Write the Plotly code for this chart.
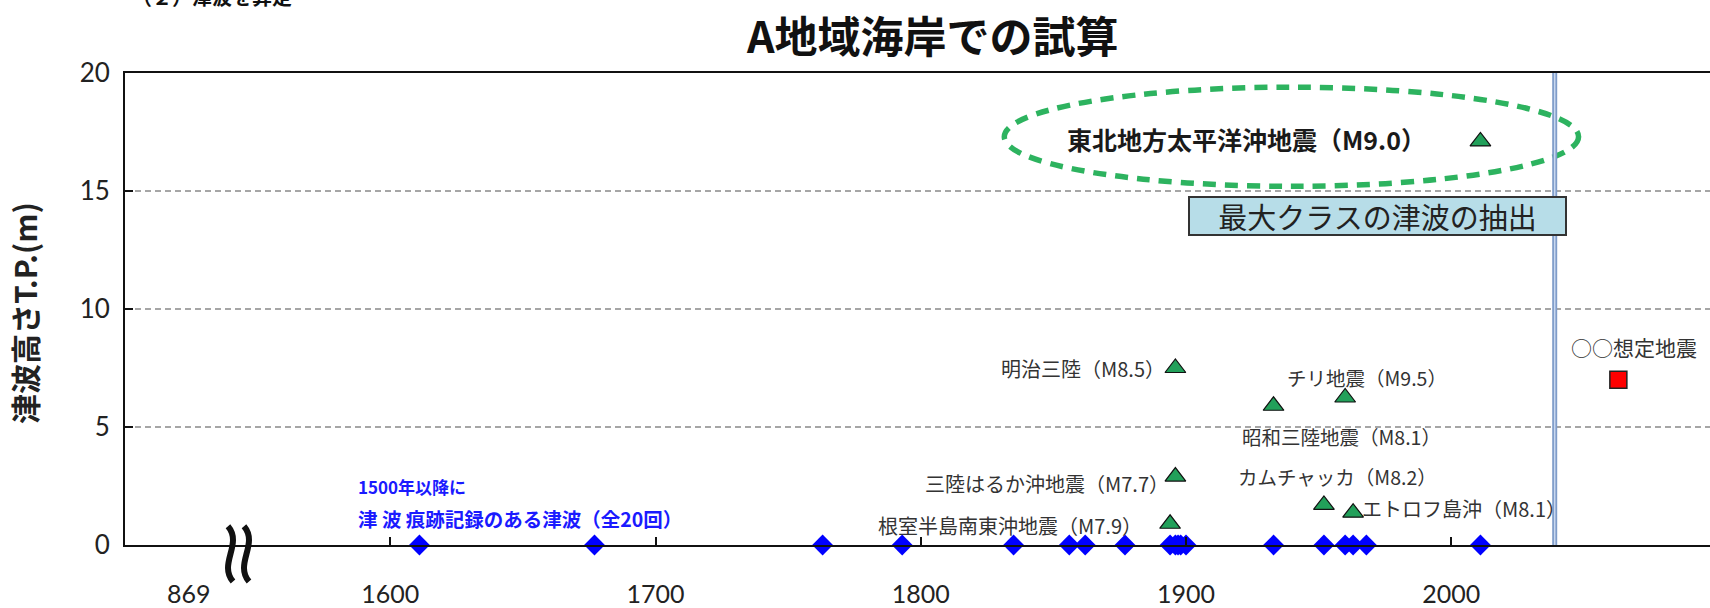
import plotly.graph_objects as go

# ---------------- data ----------------
record_years = [1611, 1677, 1763, 1793, 1835, 1856, 1862, 1877, 1894, 1896,
                1897, 1898, 1900, 1933, 1952, 1960, 1963, 1968, 2011]
record_heights = [0, 0, 0, 0, 0, 0, 0, 0, 0, 0,
                  0, 0, 0, 0, 0, 0, 0, 0, 0]

event_names = ["明治三陸（M8.5）", "三陸はるか沖地震（M7.7）", "根室半島南東沖地震（M7.9）",
               "昭和三陸地震（M8.1）", "チリ地震（M9.5）", "カムチャッカ（M8.2）",
               "エトロフ島沖（M8.1）", "東北地方太平洋沖地震（M9.0）"]
event_years = [1896, 1896, 1894, 1933, 1960, 1952, 1963, 2011]
event_heights = [7.5, 2.9, 0.9, 5.9, 6.25, 1.7, 1.37, 17.1]

scenario_names = ["○○想定地震"]
scenario_years = [2063]
scenario_heights = [7.0]

x_tick_vals = [1524, 1600, 1700, 1800, 1900, 2000]
x_tick_text = ["869", "1600", "1700", "1800", "1900", "2000"]
y_tick_vals = [0, 5, 10, 15, 20]

# ---------------- layout geometry (pixels) ----------------
W, H = 1710, 608
L, T, B = 125, 73, 551
PW, PH = W - L, B - T
X0 = 1500
XPX = 2.6525  # px per year
X1 = X0 + PW / XPX


def pxx(px):
    return (px - L) / PW


def pxy(py):
    return (B - py) / PH


# label placement: (xanchor, xshift, yshift, size, bold)
event_label_style = [
    ("right", -8, 0, 20, False),
    ("right", -4, -7, 20, False),
    ("right", -26, -2, 20, False),
    ("left", -34, -31, 19.5, False),
    ("center", 22, 20, 19.5, False),
    ("left", -88, 28, 19.5, False),
    ("left", 7, 4, 20, False),
    ("right", -52, 2, 25, True),
]

CJK = "Noto Sans CJK JP"
LAT = "Lato, Noto Sans CJK JP"

fig = go.Figure()

fig.add_trace(go.Scatter(
    x=record_years, y=record_heights, mode="markers", cliponaxis=False,
    marker=dict(symbol="diamond", size=16, color="#0000ff", line=dict(width=0)),
    showlegend=False))

fig.add_trace(go.Scatter(
    x=event_years, y=event_heights, mode="markers", cliponaxis=False,
    marker=dict(symbol="triangle-up", size=18, color="#22a05a",
                line=dict(width=1.2, color="#111111")),
    showlegend=False))

fig.add_trace(go.Scatter(
    x=scenario_years, y=scenario_heights, mode="markers", cliponaxis=False,
    marker=dict(symbol="square", size=17, color="#ff0000",
                line=dict(width=1.5, color="#222222")),
    showlegend=False))

annotations = []
for name, xv, yv, st in zip(event_names, event_years, event_heights, event_label_style):
    xa, xs, ys, sz, bold = st
    txt = f"<b>{name}</b>" if bold else name
    annotations.append(dict(x=xv, y=yv, xref="x", yref="y", text=txt, showarrow=False,
                            xanchor=xa, yanchor="middle", xshift=xs, yshift=ys,
                            font=dict(family=CJK, size=sz, color="#1a1a1a" if bold else "#333333")))

annotations.append(dict(x=scenario_years[0], y=scenario_heights[0], xref="x", yref="y",
                        text=scenario_names[0], showarrow=False, xanchor="center",
                        yanchor="middle", xshift=16, yshift=33,
                        font=dict(family=CJK, size=21, color="#333333")))

# box "最大クラスの津波の抽出"
annotations.append(dict(x=pxx(1377.5), y=pxy(217.5), xref="paper", yref="paper",
                        text="最大クラスの津波の抽出", showarrow=False,
                        xanchor="center", yanchor="middle", width=373, height=34,
                        bgcolor="#b7dde8", bordercolor="#333333", borderwidth=2,
                        font=dict(family=CJK, size=29, color="#222222")))

# blue note
annotations.append(dict(x=pxx(356), y=pxy(492), xref="paper", yref="paper",
                        text="<b>1500年以降に</b>", showarrow=False,
                        xanchor="left", yanchor="middle",
                        font=dict(family=CJK, size=17, color="#1a1aff")))
annotations.append(dict(x=pxx(356), y=pxy(524), xref="paper", yref="paper",
                        text="<b>津 波 痕跡記録のある津波（全20回）</b>", showarrow=False,
                        xanchor="left", yanchor="middle",
                        font=dict(family=CJK, size=19.5, color="#1a1aff")))

# title
annotations.append(dict(x=pxx(932), y=pxy(34), xref="paper", yref="paper",
                        text="<b>A地域海岸での試算</b>", showarrow=False,
                        xanchor="center", yanchor="middle",
                        font=dict(family=CJK, size=43, color="#111111")))

# heading cut off at the top edge of the image
annotations.append(dict(x=pxx(212), y=pxy(-4), xref="paper", yref="paper",
                        text="<b>（２）津波を算定</b>", showarrow=False,
                        xanchor="center", yanchor="middle",
                        font=dict(family=CJK, size=20, color="#111111")))

# y-axis title
annotations.append(dict(x=pxx(24), y=pxy(316), xref="paper", yref="paper",
                        text="<b>津波高さT.P.(m)</b>", showarrow=False, textangle=-90,
                        xanchor="center", yanchor="middle",
                        font=dict(family=CJK, size=30, color="#222222")))


def path_px(pts):
    (a, b), rest = pts[0], pts[1:]
    s = f"M {pxx(a):.5f} {pxy(b):.5f} C "
    s += ", ".join(f"{pxx(p):.5f} {pxy(q):.5f}" for p, q in rest)
    return s


shapes = [
    # dashed green ellipse
    dict(type="circle", xref="x", yref="y", x0=1831.5, x1=2048, y0=15.2, y1=19.4,
         line=dict(color="#2db35f", width=5.5, dash="13px,9px")),
    # vertical separator
    dict(type="line", xref="x", yref="y", x0=2039, x1=2039, y0=0, y1=20,
         line=dict(color="#7f9cc9", width=5)),
    dict(type="line", xref="x", yref="y", x0=2039, x1=2039, y0=0, y1=20,
         line=dict(color="#c9d8ef", width=1.5)),
    # axis-break marks
    dict(type="path", xref="paper", yref="paper",
         path=path_px([(228, 532), (243, 550), (218, 570), (233, 588)]),
         line=dict(color="#111111", width=6)),
    dict(type="path", xref="paper", yref="paper",
         path=path_px([(244, 532), (259, 550), (234, 570), (249, 588)]),
         line=dict(color="#111111", width=6)),
]

fig.update_layout(
    width=W, height=H, autosize=False,
    margin=dict(l=L, r=0, t=T, b=H - B, pad=0),
    paper_bgcolor="white", plot_bgcolor="white",
    showlegend=False,
    annotations=annotations, shapes=shapes,
    xaxis=dict(range=[X0, X1], showgrid=False, zeroline=False,
               showline=True, linecolor="#111111", linewidth=2, mirror=True,
               tickmode="array", tickvals=x_tick_vals, ticktext=x_tick_text,
               ticks="", ticklabelstandoff=26,
               tickfont=dict(family=LAT, size=25, color="#222222"),
               minor=dict(tickmode="array", tickvals=x_tick_vals[1:], ticks="inside",
                          ticklen=8, tickcolor="#111111", tickwidth=1.5, showgrid=False)),
    yaxis=dict(range=[0, 20], tickmode="array", tickvals=y_tick_vals,
               showgrid=True, gridcolor="#a6a6a6", gridwidth=1.5, griddash="6px,4px",
               zeroline=False, showline=True, linecolor="#111111", linewidth=2,
               ticks="inside", ticklen=8, tickcolor="#111111", tickwidth=1.5,
               ticklabelstandoff=8,
               tickfont=dict(family=LAT, size=26, color="#222222")),
)

fig.write_html("out.html")
